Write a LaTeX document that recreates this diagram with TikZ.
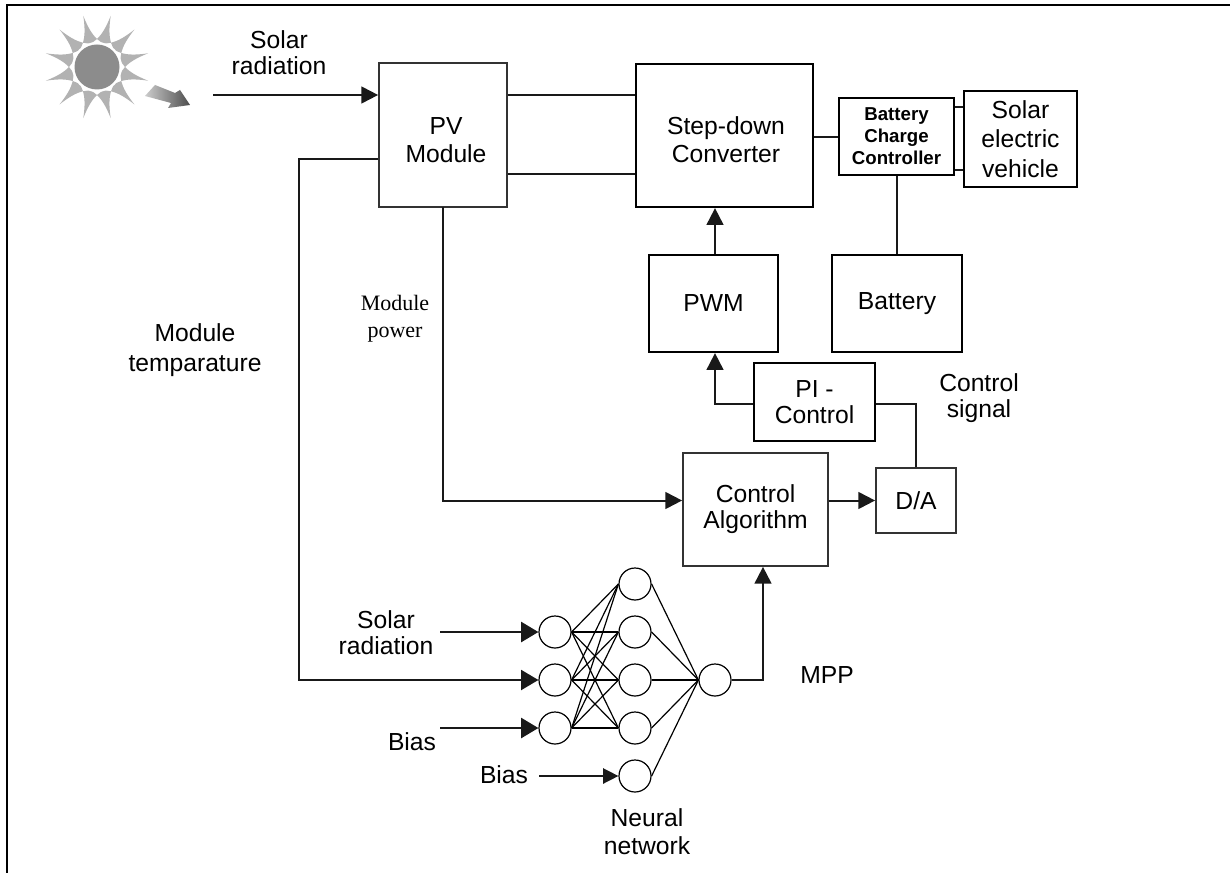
\documentclass[tikz,border=0pt]{standalone}
\usepackage{fontspec}
\setmainfont{Liberation Sans}
\newfontfamily\serifface{Liberation Serif}
\usetikzlibrary{arrows.meta}
\newcommand{\fsz}[2]{\fontsize{#1}{#2}\selectfont}
\tikzset{
  x=0.75pt,y=-0.75pt,
  thinbox/.style={draw=black!80,line width=1.3pt,inner sep=0pt,align=center,font=\fsz{18.5}{21}},
  thickbox/.style={draw=black,line width=1.7pt,inner sep=0pt,align=center,font=\fsz{18.5}{21}},
  lbl/.style={inner sep=0pt,align=center,font=\fsz{18.5}{21}},
  wire/.style={draw=black!90,line width=1.5pt},
  arr/.style={wire,-{Triangle[length=12.5pt,width=12.5pt]}},
  bigarr/.style={wire,line width=2pt,-{Triangle[length=13pt,width=15pt]}},
  smallarr/.style={wire,line width=1.1pt,-{Triangle[length=11.5pt,width=11.5pt]}},
  neuron/.style={circle,draw=black,line width=0.9pt,minimum size=24pt,inner sep=0pt,fill=white},
  nnline/.style={draw=black,line width=0.9pt},
}
\begin{document}
\begin{tikzpicture}
\useasboundingbox (0,0) rectangle (1230,873);
\fill[white] (0,0) rectangle (1230,873);
\coordinate (fa) at (7,873); \coordinate (fb) at (7,5); \coordinate (fc) at (1230,5);
\draw[black,line width=1.5pt] (fa) -- (fb) -- (fc);
% sun
\begin{scope}[shift={(97,67)}]
\foreach \a in {15,45,...,345}{
  \fill[black!30] (\a-15:28) .. controls (\a-10:31) and (\a-3:36) .. (\a:53) .. controls (\a+3:36) and (\a+10:31) .. (\a+15:28) -- (\a:24) -- cycle;
}
\fill[white] (0,0) circle[radius=25];
\fill[black!45] (0,0) circle[radius=22.5];
\end{scope}
\shade[left color=black!20,right color=black!70] (145,96) -- (155,85) -- (175,93) -- (180,90) -- (190,105) -- (168,108) -- (171,103) -- cycle;
% boxes
\node[thinbox,minimum width=96pt,minimum height=108pt] (pv) at (443,135) {};
\node[lbl] (pvt) at (446,140) {PV\\Module};
\node[thickbox,minimum width=132.75pt,minimum height=107.25pt] (sd) at (724.5,135.5) {};
\node[lbl] (sdt) at (726,140) {Step-down\\Converter};
\node[thickbox,minimum width=86.25pt,minimum height=57.75pt,font=\bfseries\fsz{14}{16.5}] (bcc) at (896.5,136.5) {Battery\\Charge\\Controller};
\node[thickbox,minimum width=84.75pt,minimum height=72pt,font=\fsz{18.5}{22}] (ev) at (1020.5,139) {Solar\\electric\\vehicle};
\node[thickbox,minimum width=96.75pt,minimum height=72.75pt] (pwm) at (713.5,303.5) {PWM};
\node[thickbox,minimum width=97.5pt,minimum height=72.75pt] (bat) at (897,303.5) {Battery};
\node[thickbox,minimum width=90.75pt,minimum height=58.5pt,font=\fsz{18.5}{20}] (pi) at (814.5,402) {PI -\\Control};
\node[thinbox,minimum width=108.75pt,minimum height=84.75pt,font=\fsz{18.5}{19.5}] (ca) at (755.5,509.5) {Control\\Algorithm};
\node[thinbox,minimum width=60pt,minimum height=48.75pt] (da) at (916,500.5) {D/A};
% labels
\node[lbl,font=\fsz{18.5}{19.5}] (t1) at (279,53) {Solar\\radiation};
\node[lbl,font=\fsz{18.5}{22.5}] (t2) at (195,350) {Module\\temparature};
\node[inner sep=0pt,align=center,font=\serifface\fsz{16.5}{20}] (t3) at (395,319) {Module\\power};
\node[lbl,font=\fsz{18.5}{20}] (t4) at (979,398) {Control\\signal};
\node[lbl] (t5) at (827,675) {MPP};
\node[lbl,font=\fsz{18.5}{19.5}] (t6) at (386,633) {Solar\\radiation};
\node[lbl] (t7) at (412,742) {Bias};
\node[lbl] (t8) at (504,775) {Bias};
\node[lbl] (t9) at (647,832) {Neural\\network};
% neurons
\foreach \n/\y in {1/632,2/680,3/728} \node[neuron] (i\n) at (555,\y) {};
\foreach \n/\y in {1/584,2/632,3/680,4/728,5/776} \node[neuron] (h\n) at (635,\y) {};
\node[neuron] (o) at (715,680) {};
\foreach \i in {1,2,3} \foreach \h in {1,2,3,4} \draw[nnline] (i\i.east) -- (h\h.west);
\foreach \h in {1,2,3,4,5} \draw[nnline] (h\h.east) -- (o.west);
% wires
\coordinate (s1) at (213,95);
\draw[arr] (s1) -- (pv.west |- s1);
\draw[wire] (pv.east |- 0,95) -- (sd.west |- 0,95);
\draw[wire] (pv.east |- 0,174) -- (sd.west |- 0,174);
\draw[wire] (sd.east |- 0,137) -- (bcc.west |- 0,137);
\draw[wire] (bcc.east |- 0,107) -- (ev.west |- 0,107);
\draw[wire] (bcc.east |- 0,170) -- (ev.west |- 0,170);
\draw[wire] (bcc.south -| 897,0) -- (bat.north);
\draw[arr] (pwm.north -| 715,0) -- (sd.south -| 715,0);
\draw[arr] (pi.west |- 0,404) -| (pwm.south -| 715,0);
\draw[wire] (da.north) |- (pi.east |- 0,404);
\draw[arr] (ca.east |- da.west) -- (da.west);
\draw[arr] (pv.south |- 0,207) |- (ca.west |- da.west);
\draw[arr] (o.east) -| (ca.south -| 763,0);
\draw[bigarr,line width=1.5pt] (pv.west |- 0,159) -| (299,680) -- (i2.west);
\coordinate (s2) at (440,632);
\coordinate (s3) at (440,728);
\coordinate (s4) at (539,776);
\draw[bigarr] (s2) -- (i1.west);
\draw[bigarr] (s3) -- (i3.west);
\draw[smallarr] (s4) -- (h5.west);
\end{tikzpicture}
\end{document}
